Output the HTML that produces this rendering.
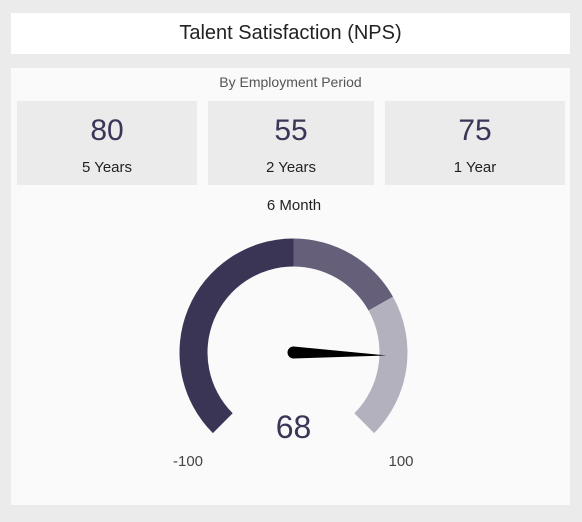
<!DOCTYPE html>
<html><head><meta charset="utf-8"><style>
body{margin:0;width:582px;height:522px;background:#ebebeb;font-family:"Liberation Sans",sans-serif;position:relative;overflow:hidden}
.abs{position:absolute}
#title{left:11px;top:13px;width:559px;height:41px;background:#fff;text-align:center;line-height:41px;font-size:20px;color:#222}
#panel{left:11px;top:68px;width:559px;height:437px;background:#fafafa}
.card{position:absolute;top:101px;height:84px;background:#ebebeb;text-align:center}
.card .v{position:absolute;top:13px;width:100%;font-size:30px;color:#3b3557}
.card .l{position:absolute;top:58px;width:100%;font-size:15px;color:#222}
</style></head><body>
<div id="title" class="abs">Talent Satisfaction (NPS)</div>
<div id="panel" class="abs"></div>
<div class="abs" style="left:11px;width:559px;top:74px;text-align:center;font-size:14px;color:#555">By Employment Period</div>
<div class="card" style="left:17px;width:180px"><div class="v">80</div><div class="l">5 Years</div></div>
<div class="card" style="left:208px;width:166px"><div class="v">55</div><div class="l">2 Years</div></div>
<div class="card" style="left:385px;width:180px"><div class="v">75</div><div class="l">1 Year</div></div>
<div class="abs" style="left:194px;width:200px;top:197px;text-align:center;font-size:15px;color:#222">6 Month</div>
<svg class="abs" style="left:0;top:0" width="582" height="522" id="g"></svg>
<script>
const bandStarts=[-100,0,45];
const bandEnds=[0,45,100];
const bandColors=['#3a3455','#655f7a','#b3b1bd'];
const gaugeValue=68;
const minVal=-100,maxVal=100;
const cx=293.5,cy=352.5,ro=114,ri=86;
const svg=document.getElementById('g');
const NS='http://www.w3.org/2000/svg';
function ang(v){return ((v-minVal)/(maxVal-minVal)*270-135)*Math.PI/180;}
function pt(v,r){const a=ang(v);return [cx+r*Math.sin(a),cy-r*Math.cos(a)];}
bandStarts.forEach((s,i)=>{
  const e=bandEnds[i];
  const [x1,y1]=pt(s,ro),[x2,y2]=pt(e,ro),[x3,y3]=pt(e,ri),[x4,y4]=pt(s,ri);
  const large=(ang(e)-ang(s))>Math.PI?1:0;
  const p=document.createElementNS(NS,'path');
  p.setAttribute('d',`M${x1},${y1}A${ro},${ro} 0 ${large} 1 ${x2},${y2}L${x3},${y3}A${ri},${ri} 0 ${large} 0 ${x4},${y4}Z`);
  p.setAttribute('fill',bandColors[i]);
  
  
  svg.appendChild(p);
});
const a=ang(gaugeValue);
const [tx,ty]=pt(gaugeValue,93);
const nx=Math.cos(a),ny=Math.sin(a);
const w=6;
const needle=document.createElementNS(NS,'path');
needle.setAttribute('d',`M${cx+w*nx},${cy+w*ny}L${tx},${ty}L${cx-w*nx},${cy-w*ny}A${w},${w} 0 0 0 ${cx+w*nx},${cy+w*ny}Z`);
needle.setAttribute('fill','#000');


svg.appendChild(needle);
function txt(x,y,s,size,col,name){
  const t=document.createElementNS(NS,'text');
  t.setAttribute('x',x);t.setAttribute('y',y);t.setAttribute('text-anchor','middle');
  t.setAttribute('font-size',size);t.setAttribute('fill',col);
  t.setAttribute('font-family','Liberation Sans, sans-serif');
  t.textContent=s;
  
  
  svg.appendChild(t);
}
txt(cx,438,String(gaugeValue),32,'#3b3557','gauge-value');
txt(188,466,String(minVal),15,'#444','gauge-min-label');
txt(401,466,String(maxVal),15,'#444','gauge-max-label');
</script>
</body></html>
